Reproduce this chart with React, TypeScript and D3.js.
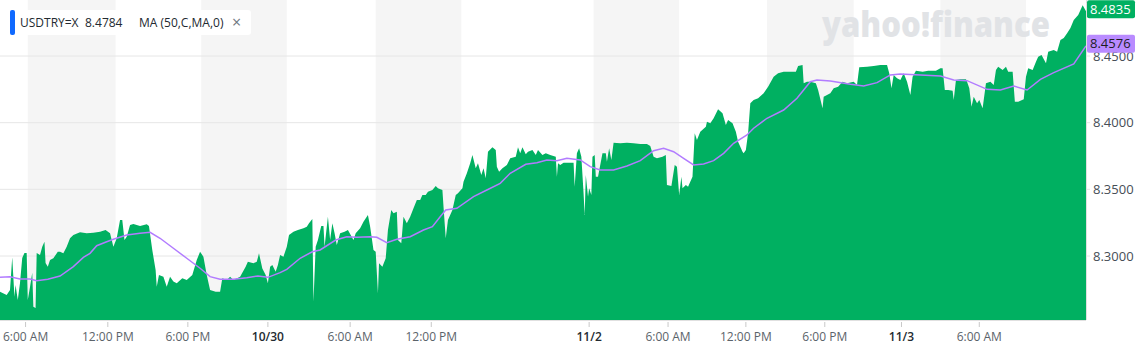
import React, { useRef, useEffect } from "react";
import * as d3 from "d3";

// x = bar index on the intraday timeline (weekend gap removed), y = USDTRY close
const closes: [number, number][] = [
  [0, 8.2732], [6, 8.2707], [9, 8.2745], [11, 8.299], [13, 8.2695], [14, 8.2783], [16, 8.267],
  [18, 8.2797], [20, 8.2985], [22, 8.3023], [24, 8.3023], [25, 8.267], [27, 8.2768], [29, 8.2875],
  [30, 8.262], [32, 8.261], [33, 8.3023], [36, 8.3008], [38, 8.307], [40, 8.3107], [41, 8.2948],
  [43, 8.292], [45, 8.297], [48, 8.2983], [52, 8.3032], [54, 8.3032], [57, 8.302], [60, 8.307],
  [63, 8.3133], [66, 8.3158], [72, 8.3178], [78, 8.317], [84, 8.3175], [90, 8.3182], [95, 8.3195],
  [99, 8.317], [102, 8.307], [105, 8.3133], [108, 8.327], [110, 8.327], [112, 8.312], [114, 8.3145],
  [117, 8.3233], [120, 8.324], [126, 8.3225], [132, 8.3238], [134, 8.3225], [137, 8.3045],
  [140, 8.2895], [141, 8.277], [143, 8.2858], [147, 8.2845], [150, 8.277], [153, 8.2845],
  [156, 8.2808], [159, 8.2795], [164, 8.2833], [168, 8.282], [173, 8.2858], [177, 8.297],
  [180, 8.3032], [183, 8.2995], [186, 8.2858], [189, 8.2745], [194, 8.2732], [198, 8.2732],
  [200, 8.2833], [204, 8.282], [207, 8.2845], [210, 8.282], [216, 8.2845], [221, 8.292],
  [223, 8.2957], [228, 8.2945], [231, 8.2957], [233, 8.302], [236, 8.2907], [239, 8.2858],
  [241, 8.2795], [243, 8.292], [245, 8.2933], [248, 8.2882], [250, 8.2933], [252, 8.3008],
  [255, 8.2995], [258, 8.307], [260, 8.3158], [264, 8.3182], [268, 8.3195], [273, 8.3208],
  [276, 8.322], [278, 8.3245], [281, 8.3277], [282, 8.2657], [284, 8.307], [286, 8.312],
  [289, 8.3225], [291, 8.3225], [292, 8.307], [295, 8.3295], [297, 8.312], [299, 8.3245],
  [301, 8.317], [303, 8.3083], [306, 8.317], [310, 8.3182], [313, 8.3195], [318, 8.312],
  [320, 8.317], [324, 8.3208], [327, 8.3257], [331, 8.3307], [333, 8.322], [336, 8.3045],
  [338, 8.3032], [340, 8.272], [341, 8.2945], [344, 8.292], [347, 8.2983], [349, 8.3195],
  [352, 8.3345], [354, 8.332], [357, 8.3332], [358, 8.312], [361, 8.3095], [363, 8.3295],
  [366, 8.3245], [369, 8.3295], [372, 8.3358], [375, 8.342], [378, 8.342], [380, 8.3458],
  [383, 8.3458], [385, 8.3482], [389, 8.3495], [392, 8.3525], [394, 8.3508], [398, 8.3495],
  [399, 8.337], [401, 8.3133], [403, 8.327], [407, 8.3345], [410, 8.3458], [412, 8.347],
  [416, 8.3508], [417, 8.3557], [420, 8.362], [423, 8.3695], [425, 8.3757], [428, 8.3658],
  [430, 8.3695], [433, 8.3608], [435, 8.3658], [437, 8.3583], [439, 8.3782], [443, 8.3815],
  [446, 8.3795], [447, 8.367], [449, 8.3632], [452, 8.3658], [456, 8.3683], [459, 8.3733],
  [464, 8.3745], [466, 8.3815], [468, 8.377], [470, 8.3815], [473, 8.3763], [475, 8.3782],
  [479, 8.3795], [482, 8.3757], [484, 8.3795], [488, 8.3757], [491, 8.377], [495, 8.3757],
  [500, 8.3745], [501, 8.3595], [502, 8.3695], [504, 8.3683], [507, 8.37], [516, 8.37],
  [517, 8.352], [519, 8.377], [521, 8.3808], [523, 8.3745], [525, 8.347], [526, 8.3307],
  [527, 8.3608], [529, 8.3445], [530, 8.3508], [532, 8.3458], [533, 8.3745], [535, 8.3757],
  [536, 8.3595], [538, 8.3595], [542, 8.377], [545, 8.377], [546, 8.3707], [548, 8.3808],
  [550, 8.372], [552, 8.385], [558, 8.3845], [564, 8.385], [570, 8.3845], [576, 8.384],
  [582, 8.384], [585, 8.3825], [588, 8.3745], [591, 8.3733], [596, 8.3745], [599, 8.3757],
  [600, 8.3533], [604, 8.3525], [607, 8.3683], [609, 8.367], [611, 8.3458], [613, 8.3595],
  [614, 8.3508], [617, 8.3533], [619, 8.352], [623, 8.3595], [625, 8.392], [627, 8.387],
  [630, 8.3932], [635, 8.397], [636, 8.4007], [639, 8.3995], [642, 8.4033], [646, 8.41],
  [650, 8.407], [653, 8.3982], [655, 8.402], [659, 8.3995], [662, 8.3932], [664, 8.3857],
  [668, 8.3782], [669, 8.377], [671, 8.3795], [673, 8.392], [675, 8.4145], [678, 8.417],
  [682, 8.4183], [687, 8.422], [691, 8.427], [696, 8.4345], [700, 8.437], [705, 8.4382],
  [711, 8.4382], [716, 8.4382], [718, 8.4425], [722, 8.4433], [723, 8.4295], [726, 8.4307],
  [729, 8.4307], [734, 8.4295], [736, 8.4245], [740, 8.4108], [741, 8.4195], [744, 8.4208],
  [747, 8.422], [750, 8.4258], [754, 8.427], [758, 8.4307], [762, 8.4295], [768, 8.4307],
  [771, 8.4283], [773, 8.4415], [780, 8.442], [786, 8.4425], [792, 8.4433], [798, 8.4433],
  [800, 8.437], [802, 8.4258], [804, 8.4358], [807, 8.4333], [810, 8.432], [813, 8.437],
  [816, 8.4307], [819, 8.4208], [821, 8.4345], [824, 8.439], [830, 8.4382], [835, 8.439],
  [842, 8.439], [846, 8.4408], [848, 8.4408], [850, 8.4245], [853, 8.4245], [857, 8.424],
  [858, 8.417], [860, 8.432], [864, 8.4325], [869, 8.4325], [870, 8.4307], [872, 8.4258],
  [874, 8.412], [876, 8.4195], [879, 8.4145], [881, 8.417], [884, 8.4108], [887, 8.4295],
  [891, 8.4307], [894, 8.4283], [896, 8.4395], [898, 8.442], [902, 8.4395], [905, 8.442],
  [907, 8.4382], [911, 8.4382], [913, 8.4157], [916, 8.4157], [921, 8.4175], [923, 8.4345],
  [925, 8.4408], [929, 8.4395], [932, 8.4457], [934, 8.4495], [937, 8.4508], [941, 8.4445],
  [943, 8.4532], [948, 8.4545], [951, 8.4532], [954, 8.462], [957, 8.4635], [960, 8.467],
  [963, 8.471], [966, 8.477], [970, 8.4808], [974, 8.488], [977, 8.4835],
];

// MA (50, close)
const movingAvg: [number, number][] = [
  [0, 8.284], [9, 8.2845], [18, 8.2828], [27, 8.2828], [33, 8.2815], [43, 8.2825], [54, 8.285],
  [66, 8.292], [75, 8.299], [81, 8.302], [87, 8.3077], [96, 8.3107], [102, 8.3125], [114, 8.3158],
  [126, 8.317], [135, 8.3178], [144, 8.3133], [156, 8.3058], [168, 8.2983], [180, 8.2908],
  [189, 8.2845], [198, 8.2825], [210, 8.2825], [222, 8.2837], [232, 8.285], [241, 8.284],
  [252, 8.2875], [258, 8.29], [270, 8.2983], [281, 8.3032], [288, 8.3045], [302, 8.312],
  [312, 8.3145], [321, 8.314], [333, 8.3145], [339, 8.314], [348, 8.31], [357, 8.3125],
  [369, 8.3145], [381, 8.3195], [389, 8.322], [396, 8.3295], [401, 8.3345], [411, 8.3358],
  [426, 8.3445], [438, 8.3495], [450, 8.3545], [459, 8.362], [473, 8.3688], [483, 8.37],
  [492, 8.372], [501, 8.3715], [510, 8.3733], [522, 8.372], [531, 8.367], [540, 8.3645],
  [552, 8.3645], [564, 8.3675], [576, 8.3715], [588, 8.379], [597, 8.3808], [606, 8.3782],
  [615, 8.3733], [624, 8.3683], [633, 8.369], [642, 8.3715], [651, 8.377], [660, 8.3845],
  [672, 8.3908], [678, 8.3958], [690, 8.4033], [705, 8.4095], [717, 8.4183], [729, 8.4307],
  [735, 8.432], [747, 8.4313], [765, 8.4288], [777, 8.4275], [789, 8.43], [801, 8.4358],
  [810, 8.4365], [828, 8.4358], [846, 8.435], [858, 8.432], [870, 8.4315], [888, 8.425],
  [900, 8.4245], [912, 8.4275], [924, 8.4245], [936, 8.4325], [948, 8.4375], [966, 8.444],
  [977, 8.4576],
];

const tickBars = [23, 97, 169, 241, 315, 388, 530, 601, 671, 742, 811, 881];
const tickLabels = [
  "6:00 AM", "12:00 PM", "6:00 PM", "10/30", "6:00 AM", "12:00 PM",
  "11/2", "6:00 AM", "12:00 PM", "6:00 PM", "11/3", "6:00 AM",
];
const priceTicks = [8.3, 8.35, 8.4, 8.45];
const stripes: [number, number][] = [
  [25, 104], [181, 258], [338, 415], [534, 611], [690, 768], [846, 923],
];

const lastPrice = 8.4835;
const lastMA = 8.4576;

export default function App() {
  const svgRef = useRef<SVGSVGElement>(null);

  useEffect(() => {
    const width = 1141;
    const height = 351;
    const plotRight = 1086;
    const plotBottom = 320;
    const font = "'Open Sans', sans-serif";

    const svg = d3.select(svgRef.current).attr("width", width).attr("height", height);
    svg.selectAll("*").remove();

    const x = d3.scaleLinear().domain([0, 977]).range([0, plotRight]);
    const y = d3.scaleLinear().domain([8.252, 8.492]).range([plotBottom, 0]);

    // background stripes
    svg.append("g")
      .selectAll("rect")
      .data(stripes)
      .enter()
      .append("rect")
      .attr("x", (d) => x(d[0]))
      .attr("y", 0)
      .attr("width", (d) => x(d[1]) - x(d[0]))
      .attr("height", plotBottom)
      .attr("fill", "#f5f5f5");

    // horizontal grid
    svg.append("g")
      .selectAll("line")
      .data(priceTicks)
      .enter()
      .append("line")
      .attr("x1", 0)
      .attr("x2", plotRight + 4)
      .attr("y1", (d) => y(d))
      .attr("y2", (d) => y(d))
      .attr("stroke", "#e6e6e6")
      .attr("stroke-width", 1);

    // watermark
    svg.append("text")
      .attr("x", 822)
      .attr("y", 37)
      .attr("font-family", font)
      .attr("font-size", 36)
      .attr("font-weight", 800)
      .attr("fill", "#e1e3e6")
      .attr("textLength", 228)
      .attr("lengthAdjust", "spacingAndGlyphs")
      .text("yahoo!finance");

    // price area
    const area = d3.area<[number, number]>()
      .x((d) => x(d[0]))
      .y0(plotBottom)
      .y1((d) => y(d[1]));

    svg.append("path")
      .datum(closes)
      .attr("d", area)
      .attr("fill", "#00b061");

    // moving average
    const line = d3.line<[number, number]>()
      .x((d) => x(d[0]))
      .y((d) => y(d[1]));

    svg.append("path")
      .datum(movingAvg)
      .attr("d", line)
      .attr("fill", "none")
      .attr("stroke", "#b27cff")
      .attr("stroke-width", 1.5);

    // right axis line
    svg.append("line")
      .attr("x1", plotRight + 0.5)
      .attr("x2", plotRight + 0.5)
      .attr("y1", 0)
      .attr("y2", plotBottom)
      .attr("stroke", "#e0e0e0");

    // y labels
    svg.append("g")
      .selectAll("text")
      .data(priceTicks)
      .enter()
      .append("text")
      .attr("x", plotRight + 7)
      .attr("y", (d) => y(d))
      .attr("dy", "0.35em")
      .attr("font-family", font)
      .attr("font-size", 13)
      .attr("fill", "#464e56")
      .text((d) => d.toFixed(4));

    // x axis
    const xAxis = svg.append("g");
    xAxis.append("line")
      .attr("x1", 0)
      .attr("x2", plotRight)
      .attr("y1", plotBottom + 0.5)
      .attr("y2", plotBottom + 0.5)
      .attr("stroke", "#e0e0e0");

    tickBars.forEach((b, i) => {
      const isDate = tickLabels[i].includes("/");
      xAxis.append("line")
        .attr("x1", x(b))
        .attr("x2", x(b))
        .attr("y1", plotBottom + 2)
        .attr("y2", plotBottom + 7)
        .attr("stroke", "#c8c8c8");
      xAxis.append("text")
        .attr("x", x(b))
        .attr("y", 341)
        .attr("text-anchor", "middle")
        .attr("font-family", font)
        .attr("font-size", 12)
        .attr("font-weight", isDate ? 600 : 400)
        .attr("fill", isDate ? "#232a31" : "#5b636a")
        .text(tickLabels[i]);
    });

    // price flags (drawn over the axis labels, as in the source)
    const flag = (value: number, fill: string, textFill: string) => {
      const cy = Math.max(9, y(value) - 2);
      svg.append("rect")
        .attr("x", plotRight + 1)
        .attr("y", cy - 9)
        .attr("width", 48)
        .attr("height", 18)
        .attr("rx", 2)
        .attr("fill", fill);
      svg.append("text")
        .attr("x", plotRight + 4)
        .attr("y", cy)
        .attr("dy", "0.35em")
        .attr("font-family", font)
        .attr("font-size", 13)
        .attr("fill", textFill)
        .text(value.toFixed(4));
    };
    flag(lastMA, "#b98bff", "#1d1d1f");
    flag(lastPrice, "#00b061", "#ffffff");

    // legend
    const legend = svg.append("g");
    legend.append("rect")
      .attr("x", 10)
      .attr("y", 10)
      .attr("width", 241)
      .attr("height", 25)
      .attr("rx", 3)
      .attr("fill", "#ffffff");
    legend.append("rect")
      .attr("x", 10)
      .attr("y", 10)
      .attr("width", 5)
      .attr("height", 25)
      .attr("rx", 2)
      .attr("fill", "#0f69ff");
    const legendText = (tx: number, s: string, fill: string, size = 12) =>
      legend.append("text")
        .attr("x", tx)
        .attr("y", 22.5)
        .attr("dy", "0.35em")
        .attr("font-family", font)
        .attr("font-size", size)
        .attr("font-weight", 500)
        .attr("fill", fill)
        .text(s);
    legendText(20, "USDTRY=X", "#232a31");
    legendText(85, "8.4784", "#232a31");
    legendText(139, "MA (50,C,MA,0)", "#232a31");
    legendText(232, "×", "#6e7780", 16);
  }, []);

  return <svg ref={svgRef} style={{ position: "absolute", left: 0, top: 0 }}></svg>;
}
